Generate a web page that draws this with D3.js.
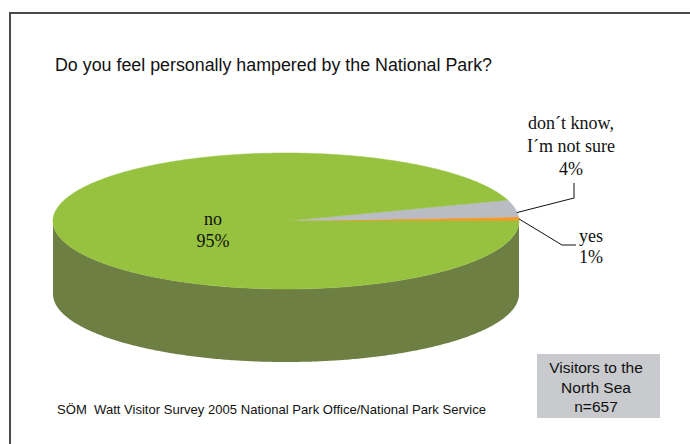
<!DOCTYPE html>
<html>
<head>
<meta charset="utf-8">
<script src="https://cdn.jsdelivr.net/npm/d3@7"></script>
<style>
html,body{margin:0;padding:0;background:#fff;}
svg{display:block;}
</style>
</head>
<body>
<svg id="chart" width="690" height="444"></svg>
<script>
// ---- data ----
const categories = ["yes", "don\u00b4t know, I\u00b4m not sure", "no"];
const values = [1, 4, 95];
const labelLines = [["yes", "1%"], ["don\u00b4t know,", "I\u00b4m not sure", "4%"], ["no", "95%"]];
const topColors = ["#f39a2b", "#b9bcc2", "#96c23f"];
const sideColors = ["#b8701c", "#8a8d92", "#6e7f44"];
const titleText = "Do you feel personally hampered by the National Park?";
const sourceText = "S\u00d6M  Watt Visitor Survey 2005 National Park Office/National Park Service";
const boxLines = ["Visitors to the", "North Sea", "n=657"];

const svg = d3.select("#chart");
const W = 690, H = 444;

// frame
svg.append("path")
  .attr("d", `M10,${H + 2} L10,13 L${W + 2},13`)
  .attr("fill", "none").attr("stroke", "#4a4a4a").attr("stroke-width", 2);

// title
svg.append("text")
  .attr("x", 55).attr("y", 71)
  .attr("font-family", "Liberation Sans, Arial, sans-serif")
  .attr("font-size", 17.5)
  .attr("textLength", 437).attr("lengthAdjust", "spacingAndGlyphs")
  .attr("fill", "#111")
  .text(titleText);

// pie geometry
const cx = 286, cy = 221, rx = 233, ry = 68, depth = 73;
const pie = d3.pie().sort(null).value(d => d)
  .startAngle(Math.PI / 2).endAngle(Math.PI / 2 - 2 * Math.PI);
const arcs = pie(values);

const px = a => cx + rx * Math.sin(a);
const py = a => cy - ry * Math.cos(a);

function ellipsePoints(a0, a1, dy) {
  const n = Math.max(2, Math.ceil(Math.abs(a1 - a0) / 0.01));
  return d3.range(n + 1).map(i => {
    const a = a0 + (a1 - a0) * i / n;
    return [px(a), py(a) + dy];
  });
}
const line = d3.line();

// sides (front half: cos(a) <= 0)
const gSide = svg.append("g");
arcs.forEach((d, i) => {
  const lo = Math.min(d.startAngle, d.endAngle), hi = Math.max(d.startAngle, d.endAngle);
  for (let k = -2; k <= 2; k++) {
    const f0 = Math.PI / 2 + 2 * Math.PI * k, f1 = 3 * Math.PI / 2 + 2 * Math.PI * k;
    const s = Math.max(lo, f0), e = Math.min(hi, f1);
    if (e > s) {
      const topPts = ellipsePoints(s, e, 0);
      const botPts = ellipsePoints(e, s, depth);
      gSide.append("path")
        .attr("d", line(topPts.concat(botPts)) + "Z")
        .attr("fill", sideColors[i]);
    }
  }
});

// top slices
const gTop = svg.append("g");
arcs.forEach((d, i) => {
  const pts = [[cx, cy]].concat(ellipsePoints(d.startAngle, d.endAngle, 0));
  gTop.append("path")
    .attr("d", line(pts) + "Z")
    .attr("fill", topColors[i])
    .attr("stroke", topColors[i]).attr("stroke-width", 0.5);
});

// labels
const serif = "Liberation Serif, Times New Roman, serif";
function multiLabel(lines, x, y0, lh) {
  const t = svg.append("text")
    .attr("font-family", serif).attr("font-size", 18)
    .attr("text-anchor", "middle").attr("fill", "#111");
  lines.forEach((s, j) => t.append("tspan").attr("x", x).attr("y", y0 + j * lh).text(s));
}
multiLabel(labelLines[2], 213, 225, 22);
multiLabel(labelLines[1], 571, 129, 23);
multiLabel(labelLines[0], 591, 242, 21);

// leader lines
const dk = arcs[1], mid1 = (dk.startAngle + dk.endAngle) / 2;
svg.append("path")
  .attr("d", `M${px(mid1 + 0.05)},${py(mid1 + 0.05) + 1} L574,198 L574,183`)
  .attr("fill", "none").attr("stroke", "#111").attr("stroke-width", 1);
const ys = arcs[0], mid0 = (ys.startAngle + ys.endAngle) / 2;
svg.append("path")
  .attr("d", `M${px(mid0)},${py(mid0)} L562,245 L576,245`)
  .attr("fill", "none").attr("stroke", "#111").attr("stroke-width", 1);

// info box
svg.append("rect").attr("x", 537).attr("y", 354).attr("width", 123).attr("height", 64)
  .attr("fill", "#c8cace");
const bt = svg.append("text")
  .attr("font-family", "Liberation Sans, Arial, sans-serif").attr("font-size", 15.5)
  .attr("text-anchor", "middle").attr("fill", "#111");
boxLines.forEach((s, j) => bt.append("tspan").attr("x", 596).attr("y", 373 + j * 19.5).text(s));

// source
svg.append("text")
  .attr("x", 57).attr("y", 414)
  .attr("font-family", "Liberation Sans, Arial, sans-serif")
  .attr("font-size", 13.5)
  .style("white-space", "pre")
  .attr("textLength", 429).attr("lengthAdjust", "spacingAndGlyphs")
  .attr("fill", "#111")
  .text(sourceText);
</script>
</body>
</html>
